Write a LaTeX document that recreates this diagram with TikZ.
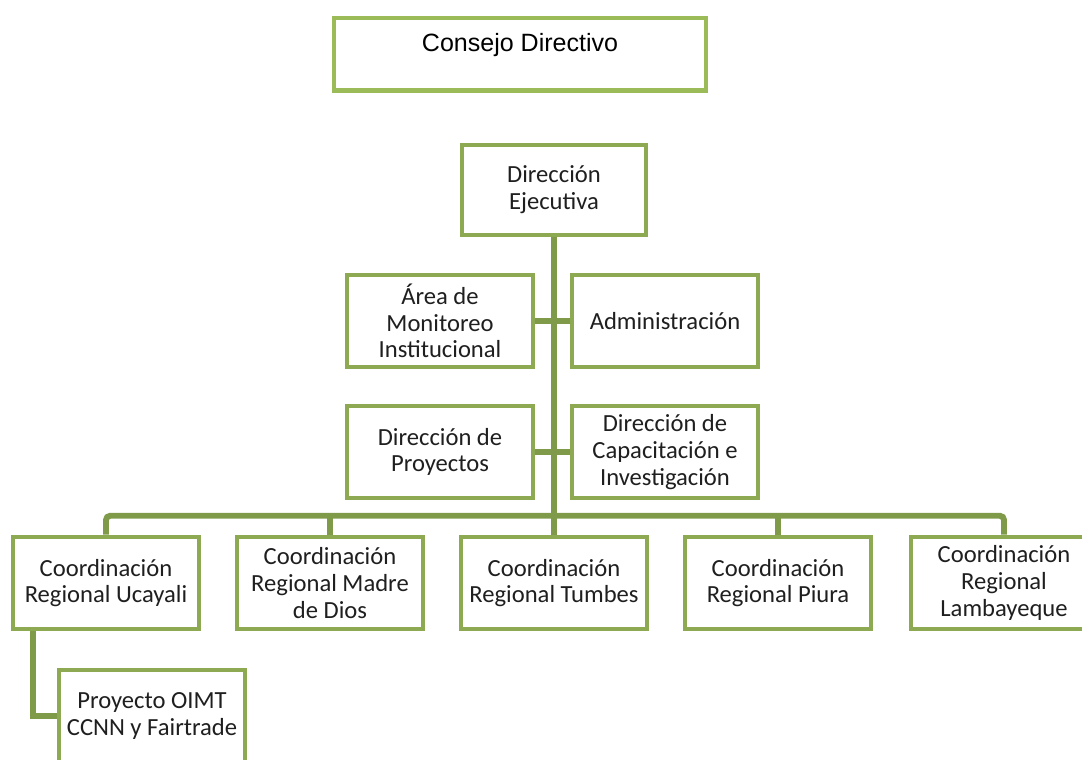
\documentclass[tikz,border=0pt]{standalone}
\usepackage{fontspec}
\setmainfont{Carlito}
\newfontfamily\arialfont{Liberation Sans}

\definecolor{boxgreen}{HTML}{8DAA52}
\definecolor{toplgreen}{HTML}{9BBB59}
\definecolor{linkgreen}{HTML}{7F9B49}

\tikzset{
  orgbox/.style={draw=boxgreen, line width=3.2pt, fill=white, inner sep=0pt,
    minimum width=4.65cm, minimum height=2.3cm, align=center,
    font=\fontsize{17.5}{19}\selectfont, text=black!88},
  link/.style={draw=linkgreen, line width=4.2pt}
}

\begin{document}
\begin{tikzpicture}[x=0.025cm,y=-0.025cm]

\useasboundingbox (0,0) rectangle (1082,760);
\clip (0,0) rectangle (1082,760);

\node at (520,16) [draw=toplgreen, line width=3.2pt, anchor=north, inner sep=0pt,
  minimum width=9.29cm, text height=0.82cm, text depth=0.98cm,
  font=\arialfont\fontsize{17.8}{19}\selectfont] (consejo) {Consejo Directivo};

\node at (554,190) [orgbox, minimum width=4.6cm, minimum height=2.26cm] (direj) {Dirección\\Ejecutiva};

\node at (440,321) [orgbox] (area) {Área de\\Monitoreo\\Institucional};
\node at (665,321) [orgbox] (admin) {Administración};

\node at (440,452) [orgbox] (dirproy) {Dirección de\\Proyectos};
\node at (665,452) [orgbox] (capac) {Dirección de\\Capacitación e\\Investigación};

\node at (106,583) [orgbox] (ucayali) {Coordinación\\Regional Ucayali};
\node at (330,583) [orgbox] (madre) {Coordinación\\Regional Madre\\de Dios};
\node at (554,583) [orgbox] (tumbes) {Coordinación\\Regional Tumbes};
\node at (778,583) [orgbox] (piura) {Coordinación\\Regional Piura};
\node at (1004,583) [orgbox] (lamb) {Coordinación\\Regional\\Lambayeque};

\node at (152,716) [orgbox] (oimt) {Proyecto OIMT\\CCNN y Fairtrade};

\draw[link] (direj) -- (tumbes);

\draw[link] (area.east) -- (admin.west);
\draw[link] (dirproy.east) -- (capac.west);

\draw[link, rounded corners=3pt] (ucayali.north) -- ++(0,-19) -| (lamb.north);
\draw[link] (madre.north) -- ++(0,-19);
\draw[link] (piura.north) -- ++(0,-19);

\draw[link] ([xshift=-1.82cm]ucayali.south) |- (oimt.west);

\end{tikzpicture}
\end{document}
